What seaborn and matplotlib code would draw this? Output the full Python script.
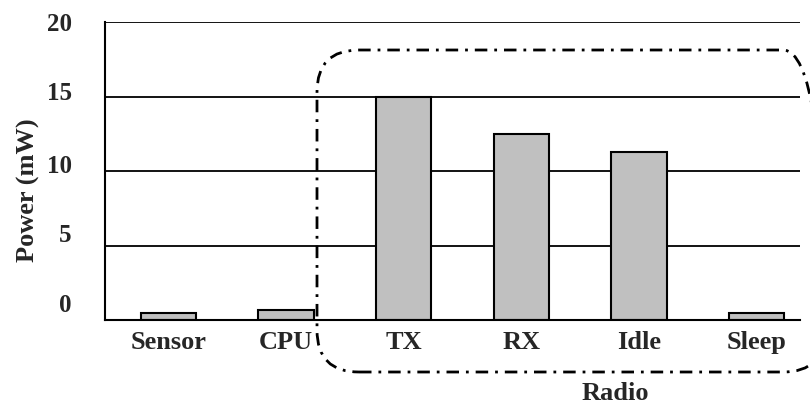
import pandas as pd
import seaborn as sns
import matplotlib.pyplot as plt
from matplotlib.patches import FancyBboxPatch
from matplotlib.transforms import ScaledTranslation

components = ['Sensor', 'CPU', 'TX', 'RX', 'Idle', 'Sleep']
power_mw = [0.5, 0.65, 15.0, 12.5, 11.3, 0.45]
y_ticks = [0, 5, 10, 15, 20]
group_label = 'Radio'

data = pd.DataFrame({'Component': components, 'Power': power_mw})

sns.set_style('white')
plt.rcParams['font.family'] = ['Liberation Serif', 'DejaVu Serif']
plt.rcParams['font.weight'] = 'bold'

fig = plt.figure(figsize=(8.1, 4.05), dpi=100)
ax = fig.add_axes([105 / 810, 1 - 320 / 405, 695 / 810, 298 / 405])

for v in y_ticks[1:]:
    ax.axhline(v, color='black', lw=1.3, zorder=0)

sns.barplot(data=data, x='Component', y='Power', color='#c0c0c0', saturation=1,
            edgecolor='black', linewidth=1.5, width=0.47, ax=ax, zorder=2)

ax.set_xlim(-0.54, 5.37)
ax.set_ylim(0, 20)
ax.set_yticks(y_ticks)
ax.set_yticklabels([str(v) for v in y_ticks], fontsize=18, fontweight='bold')
ax.tick_params(axis='y', length=0, pad=24)
ax.tick_params(axis='x', length=0, pad=8, labelsize=19)
for lab in ax.get_xticklabels():
    lab.set_fontweight('bold')

# the tick labels in the original sit a bit above their gridlines
shifts = [17, 13, 7, 5, 0]
for lab, dy in zip(ax.get_yticklabels(), shifts):
    lab.set_transform(lab.get_transform() + ScaledTranslation(0, dy / 100, fig.dpi_scale_trans))

ax.set_xlabel('')
ax.set_ylabel('Power (mW)', fontsize=19, fontweight='bold')
ax.yaxis.set_label_coords(-0.094, 0.436)
for side in ['top', 'right']:
    ax.spines[side].set_visible(False)
for side in ['left', 'bottom']:
    ax.spines[side].set_linewidth(1.5)
    ax.spines[side].set_color('black')

box = FancyBboxPatch((3.17, 0.33), 5.08, 3.22,
                     boxstyle='round,pad=0,rounding_size=0.42',
                     transform=fig.dpi_scale_trans, fill=False, edgecolor='black',
                     lw=2, linestyle=(0, (4.5, 2.5, 1, 2.5)), clip_on=False)
fig.add_artist(box)
fig.text(615 / 810, 1 - 393 / 405, group_label, ha='center', va='center',
         fontsize=19, fontweight='bold')

fig.savefig('out.png', dpi=100)
